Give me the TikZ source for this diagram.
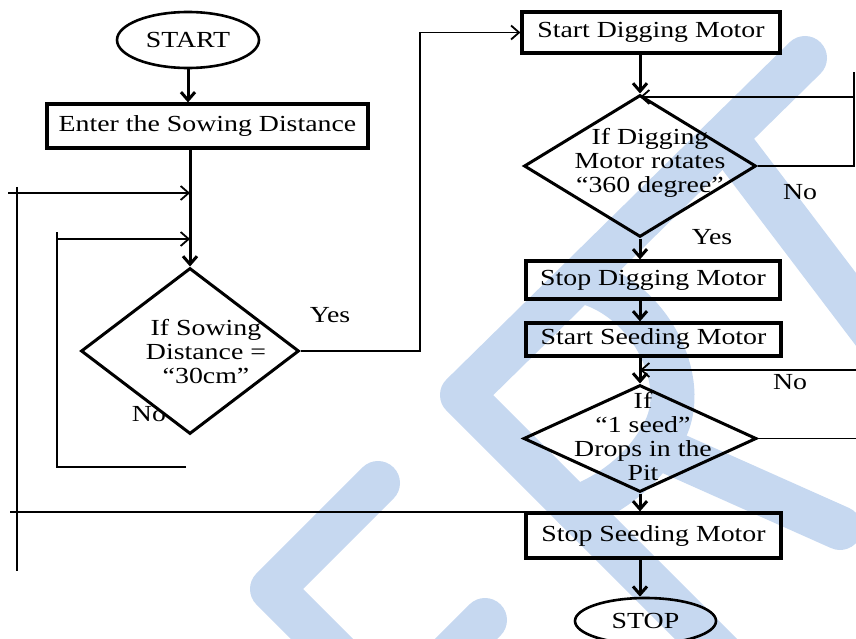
\documentclass[tikz,border=0pt]{standalone}
\usepackage{fontspec}
\setmainfont{Liberation Serif}[FakeStretch=1.21]
\usetikzlibrary{shapes.geometric,arrows.meta}
\definecolor{wmblue}{RGB}{198,216,240}
\begin{document}
\begin{tikzpicture}[x=1pt,y=-1pt,
  >={Straight Barb[length=8pt,width=14pt]},
  every node/.style={font=\fontsize{23}{24}\selectfont, inner sep=0pt},
  box/.style={draw, line width=3.2pt, rectangle},
  term/.style={draw, line width=2.6pt, ellipse},
  dec/.style={draw, line width=3pt, diamond},
  conn/.style={line width=3pt,->},
  thinline/.style={line width=1.8pt},
  wm/.style={wmblue, line width=44pt, line cap=round, line join=round},
  lbl/.style={align=center}
]
\useasboundingbox (0,0) rectangle (856,639);
% watermark
\draw[wm] (805,58) -- (462,395) -- (760,693);
\draw[wm] (735,150) -- (880,341);
\draw[wm] (585,282) .. controls (650,300) and (690,380) .. (665,430) .. controls (645,470) and (610,495) .. (575,508);
\draw[wm] (665,450) -- (840,528);
\draw[wm] (485,620) -- (440,665);
\draw[wm] (378,483) -- (272,589) -- (390,707);
% left column
\node[lbl] (no1) at (149,414) {No};
\node[dec, fill=white, minimum width=218pt, minimum height=166pt] (d1) at (190,351) {};
\node[lbl] (t1) at (206,352) {If Sowing\\Distance =\\“30cm”};
\node[term, minimum width=142pt, minimum height=56pt] (start) at (188,40) {START};
\node[box, minimum width=321pt, minimum height=44pt] (enter) at (207.5,126) {Enter the Sowing Distance};
\node[lbl] (yes1) at (330,315) {Yes};
% right column
\node[box, minimum width=258pt, minimum height=41pt] (sd) at (651,32.5) {Start Digging Motor};
\node[dec, minimum width=232pt, minimum height=142pt] (d2) at (640,166) {};
\node[lbl] (t2) at (650,163) {If Digging\\Motor rotates\\“360 degree”};
\node[box, minimum width=254pt, minimum height=38pt] (stpd) at (653,280) {Stop Digging Motor};
\node[box, minimum width=255pt, minimum height=33pt] (ssd) at (653.5,339.5) {Start Seeding Motor};
\node[dec, minimum width=233pt, minimum height=107pt] (d3) at (640,438.5) {};
\node[lbl] (t3) at (643,437) {If\\“1 seed”\\Drops in the\\Pit};
\node[box, minimum width=255pt, minimum height=45pt] (sts) at (653.5,535.5) {Stop Seeding Motor};
\node[term, minimum width=141pt, minimum height=46pt] (stop) at (645.5,621) {STOP};
\node[lbl] (no2) at (800,192) {No};
\node[lbl] (yes2) at (712,237) {Yes};
\node[lbl] (no3) at (790,382) {No};
% connectors left
\draw[conn] (start.south) -- (start.south |- enter.north);
\draw[conn] (enter.south -| d1.north) -- (d1.north);
\coordinate (oT) at (17,187);
\coordinate (oB) at (17,571);
\draw[thinline] (oT) -- (oB);
\coordinate (oA) at (8,193);
\draw[thinline,->] (oA) -- (oA -| d1.north);
\coordinate (iT) at (57,232);
\coordinate (iB) at (57,467);
\coordinate (iE) at (186,467);
\draw[thinline] (iE) -- (iB) -- (iT);
\coordinate (iA) at (57,239);
\draw[thinline,->] (iA) -- (iA -| d1.north);
\coordinate (oC) at (10,512);
\draw[thinline] (oC) -- (oC -| sts.west);
\coordinate (yc) at (420,351);
\draw[thinline,->] (d1.east) -- (yc) |- (sd.west);
% connectors right
\draw[conn] (sd.south -| d2.north) -- (d2.north);
\coordinate (r2a) at (854,72);
\draw[thinline] (d2.east) -- (d2.east -| r2a) -- (r2a);
\coordinate (r2) at (854,97);
\draw[thinline,->] (r2) -- (r2 -| d2.north);
\draw[conn] (d2.south) -- (d2.south |- stpd.north);
\draw[conn] (stpd.south -| d2.south) -- (ssd.north -| d2.south);
\draw[conn] (ssd.south -| d3.north) -- (d3.north);
\coordinate (r3a) at (856,438.5);
\draw[thinline] (d3.east) -- (r3a);
\coordinate (r3) at (856,370);
\draw[thinline,->] (r3) -- (r3 -| d3.north);
\draw[conn] (d3.south) -- (d3.south |- sts.north);
\draw[conn] (sts.south -| d3.south) -- (stop.north -| d3.south);
\end{tikzpicture}
\end{document}
